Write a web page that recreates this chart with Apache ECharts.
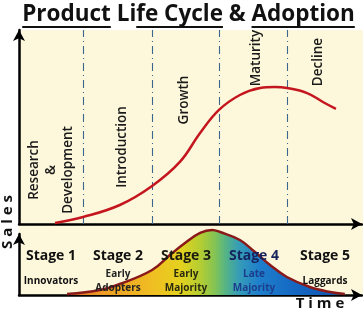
<!DOCTYPE html>
<html><head><meta charset="utf-8">
<script src="https://cdn.jsdelivr.net/npm/echarts@6/dist/echarts.min.js"></script>
<style>html,body{margin:0;padding:0;background:#fff}#c{width:363px;height:310px}</style>
</head><body><div id="c"></div>
<script>
// Data (time axis 0-100, sales 0-100, adoption 0-90)
const stageBounds = [18.7, 38.8, 58.3, 78.1];
const salesX = [10.5, 18.7, 29.4, 38.8, 46.9, 52.8, 58.3, 64.4, 70.3, 74.6, 78.1, 84.0, 88.6, 92.4];
const salesY = [0.5, 3.6, 9.8, 19.6, 32.0, 46.9, 58.8, 66.5, 70.1, 70.6, 70.1, 67.5, 62.9, 59.3];
const adoptX = [14.0, 23.6, 29.4, 38.8, 44.0, 48.4, 52.8, 56.3, 58.6, 64.4, 68.8, 73.2, 78.1, 84.8, 90.7, 95.0];
const adoptY = [1.5, 7.4, 16.2, 36.9, 59.0, 76.7, 91.5, 95.9, 93.0, 81.1, 63.4, 44.3, 26.6, 11.8, 4.4, 1.5];
const phaseNames = ['Research\n&\nDevelopment', 'Introduction', 'Growth', 'Maturity', 'Decline'];
const stageNames = ['Stage 1', 'Stage 2', 'Stage 3', 'Stage 4', 'Stage 5'];
const adopterNames = ['Innovators', 'Early\nAdopters', 'Early\nMajority', 'Late\nMajority', 'Laggards'];
const titleText = 'Product Life Cycle & Adoption';
const yName = 'S a l e s';
const xName = 'T i m e';

const chart = echarts.init(document.getElementById('c'), null, {renderer: 'canvas'});
const F = '"Open Sans", "DejaVu Sans", sans-serif';
const cream = '#fdf8db';
const dash = {type: [8, 4, 1, 4], color: '#3a6690', width: 1.1};
const axisLineStyle = {show: true, symbol: ['none', 'arrow'], symbolSize: [9, 11], lineStyle: {color: '#000', width: 2.5}};
const hideAxisBits = {axisTick: {show: false}, axisLabel: {show: false}, splitLine: {show: false}};

const salesData = salesX.map((x, i) => [x, salesY[i]]);
const adoptData = adoptX.map((x, i) => [x, adoptY[i]]);

// title measurement for underline segments
const titleFont = 'bold 22.5px ' + F;
const mc = document.createElement('canvas').getContext('2d');
mc.font = titleFont;
const tw = s => mc.measureText(s).width;
const titleW = tw(titleText);
const tx0 = 188.5 - titleW / 2;
const segs = [['', 'Product'], ['Product Li', 'fe Cycle'], ['Product Life Cycle & ', 'Adoption']];

const phasePos = [[51, 170], [122, 147], [184, 100], [256, 58], [318, 62]];
const stageCx = [51, 118, 186, 254, 325];
const stageColors = ['#111', '#111', '#1a1a10', '#16245e', '#111'];
const adopterColors = ['#111', '#222', '#2a2a10', '#1c3d8c', '#111'];

const graphics = [
  {type: 'rect', z: -10, shape: {x: 20, y: 30, width: 343, height: 194}, style: {fill: cream}},
  {type: 'rect', z: -10, shape: {x: 19, y: 224, width: 344, height: 71}, style: {fill: cream}},
  {type: 'text', z: 100, x: tx0, y: 14.5, style: {text: titleText, font: titleFont, fill: '#111', align: 'left', verticalAlign: 'middle'}},
  {type: 'text', z: 100, x: 8, y: 222, rotation: Math.PI / 2, style: {text: yName, font: 'bold 15px ' + F, fill: '#111', align: 'center', verticalAlign: 'middle'}},
  {type: 'text', z: 100, x: 320, y: 304, style: {text: xName, font: 'bold 15px ' + F, fill: '#111', align: 'center', verticalAlign: 'middle'}}
];
segs.forEach(s => {
  const a = tx0 + tw(s[0]);
  const b = a + tw(s[1]);
  graphics.push({type: 'line', z: 100, shape: {x1: a, y1: 27, x2: b, y2: 27}, style: {stroke: '#111', lineWidth: 2}});
});
phaseNames.forEach((t, i) => {
  graphics.push({type: 'text', z: 100, x: phasePos[i][0], y: phasePos[i][1], rotation: Math.PI / 2,
    style: {text: t, font: '600 13.5px ' + F, lineHeight: 17, fill: '#1a1a1a', align: 'center', verticalAlign: 'middle'}});
});
stageNames.forEach((t, i) => {
  graphics.push({type: 'text', z: 100, x: stageCx[i], y: 256, style: {text: t, font: 'bold 14px ' + F, fill: stageColors[i], align: 'center', verticalAlign: 'middle'}});
  graphics.push({type: 'text', z: 100, x: stageCx[i], y: 281, style: {text: adopterNames[i], font: 'bold 10px ' + F, lineHeight: 14, fill: adopterColors[i], align: 'center', verticalAlign: 'middle'}});
});

chart.setOption({
  animation: false,
  grid: [
    {left: 19, top: 30, width: 343, height: 194},
    {left: 19, top: 234, width: 343, height: 61}
  ],
  xAxis: [
    Object.assign({type: 'value', gridIndex: 0, min: 0, max: 100, axisLine: axisLineStyle}, hideAxisBits),
    Object.assign({type: 'value', gridIndex: 1, min: 0, max: 100, axisLine: axisLineStyle}, hideAxisBits)
  ],
  yAxis: [
    Object.assign({type: 'value', gridIndex: 0, min: 0, max: 100, axisLine: axisLineStyle}, hideAxisBits),
    Object.assign({type: 'value', gridIndex: 1, min: 0, max: 90, axisLine: axisLineStyle}, hideAxisBits)
  ],
  series: [
    {
      type: 'line', xAxisIndex: 0, yAxisIndex: 0, data: salesData, smooth: 0.4, showSymbol: false,
      lineStyle: {color: '#c4161e', width: 2.5}, z: 5,
      markLine: {silent: true, symbol: 'none', label: {show: false}, lineStyle: dash,
        data: stageBounds.map(x => ({xAxis: x}))}
    },
    {
      type: 'line', xAxisIndex: 1, yAxisIndex: 1, data: adoptData, smooth: 0.4, showSymbol: false, clip: false,
      lineStyle: {color: '#8a1a1a', width: 2.5}, z: 3,
      areaStyle: {opacity: 1, color: new echarts.graphic.LinearGradient(0, 0, 1, 0, [
        {offset: 0, color: '#e06a1c'},
        {offset: 0.12, color: '#ee9a26'},
        {offset: 0.31, color: '#f0bf22'},
        {offset: 0.41, color: '#e4d21e'},
        {offset: 0.48, color: '#b4cd32'},
        {offset: 0.53, color: '#86c452'},
        {offset: 0.57, color: '#56b484'},
        {offset: 0.62, color: '#359cb8'},
        {offset: 0.69, color: '#1f7fcb'},
        {offset: 0.82, color: '#1467c2'},
        {offset: 1, color: '#0f52ae'}
      ])},
      markLine: {silent: true, symbol: 'none', label: {show: false}, lineStyle: dash,
        data: stageBounds.map(x => [{coord: [x, 0]}, {coord: [x, 104.8]}])}
    }
  ],
  graphic: graphics
});
</script></body></html>
